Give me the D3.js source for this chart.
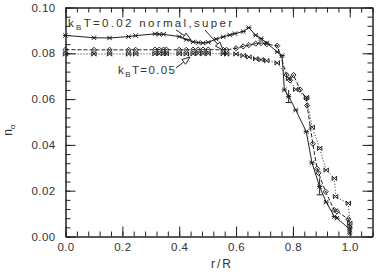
<!DOCTYPE html>
<html>
<head>
<meta charset="utf-8">
<script src="https://cdn.jsdelivr.net/npm/d3@7"></script>
<style>
  body { margin: 0; background: #fff; }
  text { font-family: "Liberation Sans", Arial, sans-serif; fill: #333; }
</style>
</head>
<body>
<svg id="chart" width="382" height="274"></svg>
<script>
// kBT=0.02 normal (solid)
var rNormal = [0.000, 0.100, 0.155, 0.222, 0.247, 0.315, 0.330, 0.345, 0.400, 0.425, 0.449, 0.467, 0.484, 0.502, 0.530, 0.555, 0.578, 0.596, 0.625, 0.645, 0.669, 0.688, 0.708, 0.745, 0.762, 0.770, 0.785, 0.810, 0.847, 0.867, 0.894, 0.917, 0.946, 0.955, 1.000, 1.000];
var nNormal = [0.0878, 0.0868, 0.0867, 0.0873, 0.0877, 0.0885, 0.0883, 0.0883, 0.0873, 0.0860, 0.0850, 0.0847, 0.0845, 0.0848, 0.0862, 0.0872, 0.0880, 0.0886, 0.0895, 0.0912, 0.0879, 0.0864, 0.0845, 0.0806, 0.0790, 0.0640, 0.0612, 0.0552, 0.0458, 0.0322, 0.0218, 0.0150, 0.0087, 0.0080, 0.0032, 0.0015];

// kBT=0.02 super (dashed)
var rSuper = [0.000, 0.100, 0.155, 0.222, 0.247, 0.315, 0.330, 0.345, 0.355, 0.400, 0.425, 0.449, 0.467, 0.484, 0.502, 0.555, 0.567, 0.600, 0.625, 0.645, 0.669, 0.688, 0.708, 0.745, 0.778, 0.790, 0.802, 0.825, 0.847, 0.850, 0.870, 0.885, 0.890, 0.915, 0.945, 0.955, 0.995, 1.000];
var nSuper = [0.0816, 0.0815, 0.0815, 0.0815, 0.0815, 0.0816, 0.0816, 0.0816, 0.0816, 0.0815, 0.0815, 0.0816, 0.0816, 0.0816, 0.0816, 0.0815, 0.0815, 0.0822, 0.0830, 0.0836, 0.0842, 0.0845, 0.0840, 0.0833, 0.0705, 0.0682, 0.0705, 0.0642, 0.0603, 0.0572, 0.0405, 0.0296, 0.0278, 0.0196, 0.0116, 0.0110, 0.0076, 0.0040];

// kBT=0.05 (dotted)
var rHot = [0.000, 0.100, 0.155, 0.222, 0.247, 0.315, 0.330, 0.345, 0.355, 0.400, 0.425, 0.449, 0.467, 0.484, 0.502, 0.555, 0.567, 0.600, 0.625, 0.645, 0.669, 0.688, 0.708, 0.745, 0.785, 0.810, 0.848, 0.868, 0.894, 0.917, 0.946, 0.950, 0.995, 1.000];
var nHot = [0.0797, 0.0797, 0.0797, 0.0797, 0.0797, 0.0798, 0.0798, 0.0798, 0.0798, 0.0798, 0.0797, 0.0798, 0.0799, 0.0799, 0.0799, 0.0798, 0.0797, 0.0797, 0.0790, 0.0784, 0.0776, 0.0772, 0.0768, 0.0758, 0.0690, 0.0642, 0.0607, 0.0477, 0.0385, 0.0290, 0.0254, 0.0174, 0.0145, 0.0058];

// error bars on the normal curve
var errR = [0.785, 0.894];
var errLo = [0.0585, 0.0182];
var errHi = [0.0640, 0.0254];

var xTicks = [0.0, 0.2, 0.4, 0.6, 0.8, 1.0];
var xTickLabels = ['0.0', '0.2', '0.4', '0.6', '0.8', '1.0'];
var yTicks = [0.00, 0.02, 0.04, 0.06, 0.08, 0.10];
var yTickLabels = ['0.00', '0.02', '0.04', '0.06', '0.08', '0.10'];

var svg = d3.select('#chart');

var x = d3.scaleLinear().domain([0, 1.08]).range([65.5, 372.5]);
var y = d3.scaleLinear().domain([0, 0.1]).range([236.5, 7.5]);

var xMinor = d3.range(0, 1.0801, 0.04);
var yMinor = d3.range(0, 0.1001, 0.004);

var styleAxis = function (g) {
  g.attr('font-family', null).attr('font-size', null);
  g.selectAll('path.domain').attr('stroke', '#222');
  g.selectAll('.tick line').attr('stroke', '#222');
  g.selectAll('.tick text').attr('font-size', 11.5).attr('fill', '#333').attr('letter-spacing', 0.4);
};

// minor ticks first, majors on top
svg.append('g').attr('transform', 'translate(0,236.5)')
  .call(d3.axisBottom(x).tickValues(xMinor).tickSize(-5).tickSizeOuter(0).tickFormat(''))
  .call(styleAxis);
svg.append('g').attr('transform', 'translate(0,7.5)')
  .call(d3.axisTop(x).tickValues(xMinor).tickSize(-5).tickSizeOuter(0).tickFormat(''))
  .call(styleAxis);
svg.append('g').attr('transform', 'translate(65.5,0)')
  .call(d3.axisLeft(y).tickValues(yMinor).tickSize(-5).tickSizeOuter(0).tickFormat(''))
  .call(styleAxis);
svg.append('g').attr('transform', 'translate(372.5,0)')
  .call(d3.axisRight(y).tickValues(yMinor).tickSize(-5).tickSizeOuter(0).tickFormat(''))
  .call(styleAxis);

svg.append('g').attr('transform', 'translate(0,236.5)')
  .call(d3.axisBottom(x).tickValues(xTicks).tickSize(-10).tickSizeOuter(0).tickPadding(6)
    .tickFormat(function (d, i) { return xTickLabels[i]; }))
  .call(styleAxis);
svg.append('g').attr('transform', 'translate(0,7.5)')
  .call(d3.axisTop(x).tickValues(xTicks).tickSize(-10).tickSizeOuter(0).tickFormat(''))
  .call(styleAxis);
svg.append('g').attr('transform', 'translate(65.5,0)')
  .call(d3.axisLeft(y).tickValues(yTicks).tickSize(-10).tickSizeOuter(0).tickPadding(10)
    .tickFormat(function (d, i) { return yTickLabels[i]; }))
  .call(styleAxis);
svg.append('g').attr('transform', 'translate(372.5,0)')
  .call(d3.axisRight(y).tickValues(yTicks).tickSize(-10).tickSizeOuter(0).tickFormat(''))
  .call(styleAxis);

// axis titles
svg.append('text').attr('x', 222).attr('y', 268).attr('text-anchor', 'middle')
  .attr('font-size', 12).attr('letter-spacing', 2).text('r/R');

var yTitle = svg.append('text').attr('transform', 'translate(12,130) rotate(-90)')
  .attr('text-anchor', 'middle').attr('font-size', 12);
yTitle.append('tspan').text('n');
yTitle.append('tspan').attr('font-size', 8).attr('dy', 3).text('σ');

// markers
var markerPaths = {
  star: 'M-2.2,-2.2L2.2,2.2M-2.2,2.2L2.2,-2.2M-2.6,0L2.6,0',
  diamond: 'M0,-2.6L2.6,0L0,2.6L-2.6,0ZM-0.8,0L0.8,0',
  boxx: 'M-2.2,-2.2L2.2,2.2M-2.2,2.2L2.2,-2.2M-2.2,-2.2V2.2M2.2,-2.2V2.2'
};

var line = d3.line()
  .x(function (d) { return x(d[0]); })
  .y(function (d) { return y(d[1]); });

var drawSeries = function (rs, ns, dash, marker) {
  var pts = d3.zip(rs, ns);
  svg.append('path').datum(pts)
    .attr('d', line)
    .attr('fill', 'none')
    .attr('stroke', '#222')
    .attr('stroke-width', 1)
    .attr('stroke-dasharray', dash);

  svg.append('g').selectAll('path').data(pts).enter().append('path')
    .attr('transform', function (d) { return 'translate(' + x(d[0]) + ',' + y(d[1]) + ')'; })
    .attr('d', markerPaths[marker])
    .attr('fill', 'none')
    .attr('stroke', '#222')
    .attr('stroke-width', 1);
};

drawSeries(rHot, nHot, '1,2', 'boxx');
drawSeries(rSuper, nSuper, '4,2', 'diamond');
drawSeries(rNormal, nNormal, null, 'star');

// error bars
var errs = d3.zip(errR, errLo, errHi);
var eb = svg.append('g').selectAll('g').data(errs).enter().append('g');
eb.append('line')
  .attr('x1', function (d) { return x(d[0]); }).attr('x2', function (d) { return x(d[0]); })
  .attr('y1', function (d) { return y(d[1]); }).attr('y2', function (d) { return y(d[2]); })
  .attr('stroke', '#222');
eb.append('line')
  .attr('x1', function (d) { return x(d[0]) - 3; }).attr('x2', function (d) { return x(d[0]) + 3; })
  .attr('y1', function (d) { return y(d[1]); }).attr('y2', function (d) { return y(d[1]); })
  .attr('stroke', '#222');

// annotations
var label = function (tx, ty, len, sub, rest) {
  var t = svg.append('text').attr('x', tx).attr('y', ty).attr('font-size', 11.5)
    .attr('textLength', len).attr('lengthAdjust', 'spacing');
  t.append('tspan').text('k');
  t.append('tspan').attr('font-size', 8).attr('dy', 3).text(sub);
  t.append('tspan').attr('dy', -3).text(rest);
};
label(68, 27, 164, 'B', 'T=0.02 normal,super');
label(118, 73.5, 57, 'B', 'T=0.05');

var arrow = function (x1, y1, x2, y2) {
  var a = Math.atan2(y2 - y1, x2 - x1);
  var L = 8, W = 3;
  var bx = x2 - L * Math.cos(a), by = y2 - L * Math.sin(a);
  var px = -Math.sin(a) * W, py = Math.cos(a) * W;
  svg.append('line').attr('x1', x1).attr('y1', y1).attr('x2', bx).attr('y2', by)
    .attr('stroke', '#222');
  svg.append('path')
    .attr('d', 'M' + x2 + ',' + y2 + 'L' + (bx + px) + ',' + (by + py) + 'L' + (bx - px) + ',' + (by - py) + 'Z')
    .attr('fill', '#fff').attr('stroke', '#222');
};
arrow(176, 30, 191, 40);
arrow(205, 30, 223, 50);
arrow(176, 68, 190, 57);
</script>
</body>
</html>
